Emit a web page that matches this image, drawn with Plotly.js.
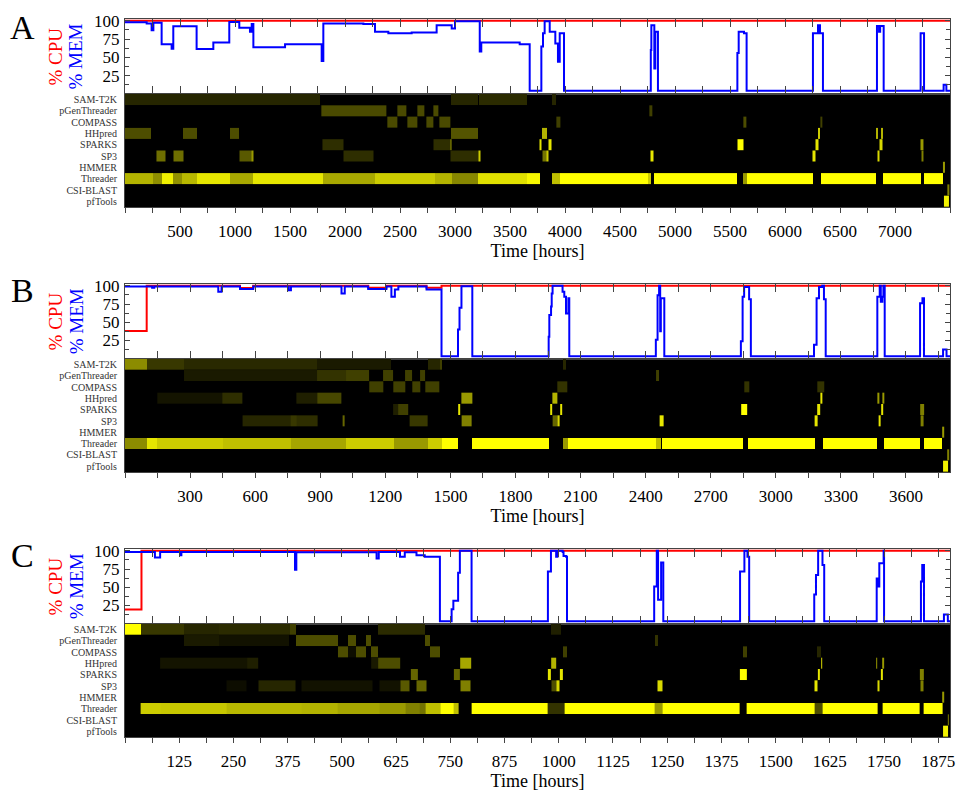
<!DOCTYPE html>
<html><head><meta charset="utf-8">
<script src="https://cdn.plot.ly/plotly-3.0.1.min.js"></script>
<style>html,body{margin:0;padding:0;background:#fff;} #chart{width:958px;height:791px;}</style>
</head><body><div id="chart"></div>
<script>
// ---------- categories ----------
const tools = ["SAM-T2K","pGenThreader","COMPASS","HHpred","SPARKS","SP3","HMMER","Threader","CSI-BLAST","pfTools"];
const panelLabels = ["A","B","C"];

// ---------- x ticks ----------
const A_ticks = [500,1000,1500,2000,2500,3000,3500,4000,4500,5000,5500,6000,6500,7000];
const B_ticks = [300,600,900,1200,1500,1800,2100,2400,2700,3000,3300,3600];
const C_ticks = [125,250,375,500,625,750,875,1000,1125,1250,1375,1500,1625,1750,1875];
const memTicks = [25,50,75,100];

// ---------- % CPU / % MEM series: [hour, percent] (step) ----------
const A_cpu = [[0,100],[7500,100]];
const A_mem = [[0,98],[197,96.5],[242,87],[258,97.5],[333,68],[424,62],[439,92.5],[651,61.5],[803,70.5],[948,98.5],[1039,90.5],[1136,85],[1152,95.5],[1167,64],[1455,68],[1788,45],[1803,96.5],[2167,95.5],[2273,85],[2394,83],[2606,84],[2833,94],[2970,89.5],[3000,99.5],[3225,58],[3239,70.5],[3588,68],[3679,4.5],[3785,65],[3800,83],[3815,99.5],[3861,85],[3912,69],[3936,44],[3952,83],[3991,4.5],[4780,60],[4785,94],[4812,35],[4821,85],[4845,4.5],[5567,56],[5579,85],[5627,83],[5651,4.5],[6254,83],[6300,94],[6318,83],[6345,4.5],[6836,93],[6855,85],[6865,93],[6897,4.5],[7233,83],[7264,4.5],[7442,12.7],[7467,4.5],[7500,4.5]];

const B_cpu = [[0,38],[100,100],[530,97],[591,100],[1121,97.5],[1205,100],[1390,97.5],[1459,100],[3803,100]];
const B_mem = [[0,99],[125,97.5],[135,99],[430,92],[445,99],[530,95.5],[591,99],[755,94],[765,99],[998,89.5],[1013,99],[1121,95.5],[1205,99],[1228,85],[1244,95],[1260,99],[1390,95],[1459,3.5],[1535,40],[1542,70],[1551,99.5],[1601,3.5],[1953,30],[1956,60],[1964,71.5],[1967,89.5],[1971,100],[2017,92],[2025,85],[2033,62],[2044,83],[2048,3.5],[2447,26],[2455,87],[2462,100],[2467,37.5],[2470,83],[2486,3.5],[2839,24],[2847,85],[2854,98.5],[2877,81.5],[2885,3.5],[3176,19],[3188,83],[3199,98.5],[3214,100],[3222,81.5],[3230,3.5],[3468,85],[3479,100],[3484,78],[3491,85],[3496,100],[3502,3.5],[3665,76],[3676,83],[3683,3.5],[3771,12.6],[3787,3.5],[3803,3.5]];

const C_cpu = [[0,19.5],[38,100],[1902,100]];
const C_mem = [[0,98.5],[69,91],[81,98.5],[127,94],[130,98.5],[392,74],[395,98],[580,89.5],[585,98.5],[634,92],[645,98],[672,94],[691,92],[726,3.5],[753,20],[757,31.6],[768,70],[772,100],[799,3.5],[975,71.5],[982,100],[994,92],[997,100],[1009,98.5],[1011,93],[1017,92],[1019,3.5],[1220,51],[1226,100],[1229,33],[1236,84],[1241,3.5],[1418,71.5],[1428,100],[1435,92],[1439,3.5],[1589,40],[1593,67],[1598,100],[1608,80.5],[1612,3.5],[1733,62],[1735,51],[1739,83],[1749,100],[1750,3.5],[1835,58],[1838,80.5],[1842,3.5],[1888,12.6],[1897,3.5],[1902,3.5]];

// ---------- tool activity: [startHour, endHour, intensity 0..1] ----------
const A_SAM = [[0,1775,0.15],[2960,3205,0.15],[3215,3650,0.17],[3885,3915,0.15]];
const A_PGEN = [[1785,2380,0.29],[2480,2555,0.29],[2660,2725,0.29],[2800,2845,0.29],[4770,4790,0.25]];
const A_COMPASS = [[2385,2475,0.29],[2570,2660,0.29],[2735,2800,0.29],[2860,2960,0.29],[3920,3960,0.25],[5625,5645,0.3],[6322,6336,0.25]];
const A_HHPRED = [[0,240,0.3],[530,650,0.3],[950,1040,0.3],[2960,3210,0.33],[3795,3840,0.7],[6300,6318,0.8],[6830,6845,0.7],[6876,6891,0.7]];
const A_SPARKS = [[1795,1985,0.18],[2800,2955,0.18],[2955,2970,0.6],[3765,3785,0.9],[3850,3880,0.9],[5567,5624,1.0],[6276,6300,0.9],[6861,6882,0.85],[7233,7255,0.6]];
const A_SP3 = [[286,370,0.43],[442,532,0.43],[1045,1152,0.35],[1152,1164,0.6],[1985,2256,0.18],[2960,3210,0.18],[3210,3228,0.8],[3791,3830,0.45],[3830,3851,0.8],[4774,4804,0.9],[6254,6276,0.9],[6845,6861,0.85],[7239,7255,0.5]];
const A_HMMER = [[7436,7451,0.6]];
const A_THREADER = [[0,258,0.7],[258,333,0.56],[333,439,0.94],[439,515,0.57],[515,651,0.72],[651,954,0.9],[954,1167,0.66],[1167,1800,0.9],[1800,2273,0.66],[2273,2818,0.8],[2818,2970,0.7],[2970,3213,0.53],[3213,3650,0.88],[3650,3770,0.97],[3885,3956,0.75],[3956,4755,1.0],[4755,4785,0.8],[4805,5567,1.0],[5618,5650,0.6],[5650,6254,1.0],[6324,6830,1.0],[6891,7233,1.0],[7264,7436,1.0]];
const A_CSI = [[7476,7491,0.5]];
const A_PFT = [[7445,7490,0.95]];

const B_SAM = [[0,103,0.55],[103,272,0.22],[272,883,0.16],[883,1228,0.1],[1397,1451,0.15],[1451,1463,0.25],[2017,2033,0.15]];
const B_PGEN = [[272,883,0.1],[883,1021,0.2],[1021,1126,0.25],[1190,1236,0.25],[1290,1325,0.25],[1359,1382,0.25],[2450,2462,0.25]];
const B_COMPASS = [[1126,1190,0.25],[1236,1290,0.25],[1325,1359,0.25],[1385,1451,0.25],[1991,2040,0.2],[2854,2878,0.2],[3192,3223,0.2]];
const B_HHPRED = [[149,450,0.08],[450,539,0.18],[791,886,0.12],[886,998,0.28],[1551,1601,0.6],[1971,1991,0.7],[3204,3215,0.9],[3468,3476,0.6],[3491,3499,0.6]];
const B_SPARKS = [[1236,1259,0.12],[1259,1305,0.25],[1535,1546,0.9],[1958,1970,0.9],[2004,2016,0.9],[2839,2870,1.0],[3192,3204,0.9],[3484,3494,0.9],[3665,3683,0.5]];
const B_SP3 = [[542,763,0.15],[763,791,0.22],[791,886,0.18],[1002,1013,0.4],[1310,1397,0.22],[1551,1597,0.5],[1973,1992,0.4],[1992,2004,0.85],[2464,2482,0.9],[3181,3192,0.9],[3476,3484,0.9],[3668,3679,0.5]];
const B_HMMER = [[3767,3775,0.6]];
const B_THREADER = [[0,103,0.55],[103,149,0.9],[149,450,0.8],[450,763,0.75],[763,1021,0.65],[1021,1239,0.8],[1239,1397,0.6],[1397,1463,0.8],[1463,1535,1.0],[1601,1956,1.0],[2017,2040,0.6],[2040,2447,1.0],[2447,2470,0.75],[2474,2847,1.0],[2870,3181,1.0],[3219,3468,1.0],[3499,3665,1.0],[3683,3767,1.0]];
const B_CSI = [[3790,3797,0.5]];
const B_PFT = [[3771,3793,0.95]];

const C_SAM = [[0,36,1.0],[36,136,0.22],[136,217,0.15],[217,380,0.17],[380,394,0.25],[584,691,0.17],[983,1006,0.12]];
const C_PGEN = [[136,217,0.1],[217,378,0.07],[395,491,0.3],[514,532,0.3],[555,568,0.3],[691,704,0.3],[1221,1229,0.2]];
const C_COMPASS = [[491,514,0.3],[514,532,0.05],[532,555,0.3],[568,584,0.3],[704,727,0.3],[1010,1018,0.25],[1425,1434,0.25],[1596,1605,0.15]];
const C_HHPRED = [[81,281,0.08],[281,307,0.12],[568,584,0.1],[584,635,0.3],[773,799,0.65],[983,995,0.7],[1604,1608,0.85],[1731,1735,0.6],[1745,1749,0.6]];
const C_SPARKS = [[659,675,0.4],[758,771,0.4],[975,981,0.9],[1003,1009,0.9],[1418,1433,1.0],[1597,1603,0.9],[1742,1747,0.9],[1833,1841,0.5]];
const C_SP3 = [[234,281,0.05],[307,394,0.15],[407,571,0.07],[586,635,0.07],[635,655,0.35],[671,694,0.4],[773,796,0.5],[983,995,0.3],[995,1002,0.85],[1228,1240,0.85],[1589,1597,0.9],[1735,1739,0.85],[1835,1841,0.5]];
const C_HMMER = [[1884,1888,0.6]];
const C_THREADER = [[36,81,0.8],[81,234,0.78],[234,407,0.72],[407,491,0.7],[491,586,0.65],[586,647,0.6],[647,680,0.5],[680,694,0.45],[694,727,0.75],[727,757,1.0],[757,770,0.75],[799,975,1.0],[975,1013,0.2],[1013,1220,1.0],[1220,1240,0.6],[1240,1418,1.0],[1433,1589,1.0],[1589,1608,0.3],[1608,1735,1.0],[1747,1833,1.0],[1842,1884,1.0]];
const C_CSI = [[1897,1900,0.5]];
const C_PFT = [[1886,1897,0.95]];

// ---------- assembly ----------
const panels = [
  {label:panelLabels[0], xMax:7500, ticks:A_ticks, minor:250, cpu:A_cpu, mem:A_mem,
   rows:[A_SAM,A_PGEN,A_COMPASS,A_HHPRED,A_SPARKS,A_SP3,A_HMMER,A_THREADER,A_CSI,A_PFT]},
  {label:panelLabels[1], xMax:3803, ticks:B_ticks, minor:150, cpu:B_cpu, mem:B_mem,
   rows:[B_SAM,B_PGEN,B_COMPASS,B_HHPRED,B_SPARKS,B_SP3,B_HMMER,B_THREADER,B_CSI,B_PFT]},
  {label:panelLabels[2], xMax:1902, ticks:C_ticks, minor:62.5, cpu:C_cpu, mem:C_mem,
   rows:[C_SAM,C_PGEN,C_COMPASS,C_HHPRED,C_SPARKS,C_SP3,C_HMMER,C_THREADER,C_CSI,C_PFT]}
];

const FONT = "Liberation Serif, Times New Roman, serif";
const AX = '#444';
const lineDom = [[0.8955,1],[0.5269,0.6309],[0.1578,0.2618]];
const heatDom = [[0.7382,0.8955],[0.3691,0.5269],[0,0.1578]];
const labelY = [0.988,0.6212,0.2521];

const traces = [];
const layout = {
  width:958, height:791,
  margin:{l:125, r:8, t:19, b:54},
  paper_bgcolor:'#fff', plot_bgcolor:'#fff',
  showlegend:false,
  font:{family:FONT, color:'#000'},
  annotations:[], shapes:[]
};

function heatRow(segs, row, xa, ya){
  const edges=[], z=[];
  let last=null;
  segs.forEach(([s,e,v])=>{
    if(last===null){ edges.push(s); }
    else if(s>last){ z.push(null); edges.push(s); }
    z.push(v); edges.push(e); last=e;
  });
  return {type:'heatmap', x:edges, y:[row], z:[z], xaxis:xa, yaxis:ya,
    zmin:0, zmax:1, colorscale:[[0,'#000000'],[1,'#ffff00']], showscale:false, hoverinfo:'skip'};
}

panels.forEach((p,i)=>{
  const kL = 2*i+1, kH = 2*i+2;
  const xL = kL===1?'x':'x'+kL, yL = kL===1?'y':'y'+kL;
  const xH = 'x'+kH, yH = 'y'+kH;
  const axL = kL===1?'':kL;

  traces.push({type:'scatter', mode:'lines', x:p.cpu.map(d=>d[0]), y:p.cpu.map(d=>d[1]),
    line:{color:'#ff0000', width:2, shape:'hv'}, xaxis:xL, yaxis:yL, hoverinfo:'skip'});
  traces.push({type:'scatter', mode:'lines', x:p.mem.map(d=>d[0]), y:p.mem.map(d=>d[1]),
    line:{color:'#0000ff', width:2, shape:'hv'}, xaxis:xL, yaxis:yL, hoverinfo:'skip'});

  p.rows.forEach((segs,r)=>{ traces.push(heatRow(segs, r, xH, yH)); });

  layout['xaxis'+axL] = {domain:[0,1], range:[0,p.xMax], anchor:yL, tickmode:'array', tickvals:p.ticks,
    ticks:'inside', ticklen:8, tickcolor:AX, showticklabels:false, showline:true, mirror:'ticks',
    linecolor:AX, linewidth:1, showgrid:false, zeroline:false, fixedrange:true,
    minor:{tick0:0, dtick:p.minor, ticks:'inside', ticklen:8, tickcolor:AX, showgrid:false}};
  layout['yaxis'+axL] = {domain:lineDom[i], range:[0,102.5], anchor:xL, tickmode:'array', tickvals:memTicks,
    ticks:'inside', ticklen:5, tickcolor:AX, showline:true, mirror:'ticks', linecolor:AX, linewidth:1,
    showgrid:false, zeroline:false, fixedrange:true, tickfont:{family:FONT, size:17, color:'#000'},
    ticklabelstandoff:1,
    minor:{tick0:0, dtick:12.5, ticks:'inside', ticklen:4, tickcolor:AX, showgrid:false}};
  layout['xaxis'+kH] = {domain:[0,1], range:[0,p.xMax], anchor:yH, tickmode:'array', tickvals:p.ticks,
    ticks:'outside', ticklen:5, tickcolor:AX, showline:true, mirror:true, linecolor:AX, linewidth:1,
    showgrid:false, zeroline:false, fixedrange:true, tickfont:{family:FONT, size:17, color:'#000'},
    ticklabelstandoff:4,
    title:{text:'Time [hours]', font:{family:FONT, size:18, color:'#000'}, standoff:1},
    minor:{tick0:0, dtick:p.minor, ticks:'outside', ticklen:5, tickcolor:AX, showgrid:false}};
  layout['yaxis'+kH] = {domain:heatDom[i], range:[9.5,-0.5], anchor:xH, tickmode:'array',
    tickvals:tools.map((t,j)=>j), ticktext:tools, ticks:'', showline:true, mirror:true,
    linecolor:AX, linewidth:1, showgrid:false, zeroline:false, fixedrange:true, ticklabelstandoff:5,
    tickfont:{family:FONT, size:10, color:'#333'}};

  layout.shapes.push({type:'rect', xref:xH+' domain', yref:yH+' domain', x0:0, x1:1, y0:0, y1:1,
    fillcolor:'#000', line:{width:0}, layer:'below'});

  const midY = (lineDom[i][0]+lineDom[i][1])/2;
  layout.annotations.push({xref:'paper', yref:'paper', x:-0.1248, y:labelY[i], text:p.label,
    showarrow:false, font:{family:FONT, size:34, color:'#000'}, xanchor:'center', yanchor:'middle'});
  layout.annotations.push({xref:'paper', yref:'paper', x:-0.0848, y:midY, text:'% CPU', textangle:-90,
    showarrow:false, font:{family:FONT, size:19, color:'#ff0000'}, xanchor:'center', yanchor:'middle'});
  layout.annotations.push({xref:'paper', yref:'paper', x:-0.0594, y:midY, text:'% MEM', textangle:-90,
    showarrow:false, font:{family:FONT, size:19, color:'#0000ff'}, xanchor:'center', yanchor:'middle'});
});

Plotly.newPlot('chart', traces, layout, {staticPlot:true, displayModeBar:false});
</script>
</body></html>
